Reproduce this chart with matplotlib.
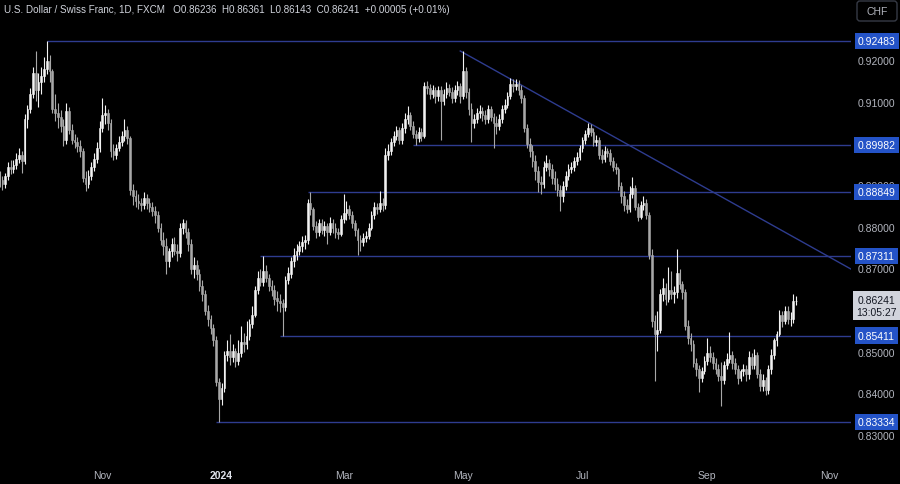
import matplotlib
matplotlib.use("Agg")
import matplotlib.pyplot as plt
import matplotlib.transforms as mtransforms
from matplotlib.patches import FancyBboxPatch
import pandas as pd

plt.rcParams['font.family'] = ['Liberation Sans Narrow', 'Liberation Sans', 'DejaVu Sans']

# USD/CHF daily bars (FXCM), 2023-09-11 .. 2024-10-15, one row per week
closes = [
    0.8915, 0.8905, 0.8925, 0.8945, 0.8940,
    0.8950, 0.8965, 0.8975, 0.8960, 0.9060,
    0.9085, 0.9120, 0.9170, 0.9130, 0.9150,
    0.9165, 0.9180, 0.9200, 0.9175, 0.9085,
    0.9075, 0.9065, 0.9045, 0.9010, 0.9080,
    0.9035, 0.9010, 0.9005, 0.8995, 0.8985,
    0.8920, 0.8905, 0.8925, 0.8945, 0.8965,
    0.8990, 0.9040, 0.9070, 0.9075, 0.9050,
    0.8985, 0.8975, 0.8990, 0.9005, 0.9020,
    0.9035, 0.9015, 0.8890, 0.8875, 0.8865,
    0.8860, 0.8855, 0.8870, 0.8860, 0.8850,
    0.8840, 0.8830, 0.8800, 0.8770, 0.8755,
    0.8720, 0.8745, 0.8760, 0.8745, 0.8740,
    0.8800, 0.8810, 0.8790, 0.8760, 0.8700,
    0.8710, 0.8690, 0.8660, 0.8640, 0.8600,
    0.8580, 0.8560, 0.8530, 0.8430, 0.8390,
    0.8415, 0.8495, 0.8505, 0.8490, 0.8505,
    0.8480, 0.8500, 0.8525, 0.8520, 0.8540,
    0.8570, 0.8590, 0.8650, 0.8680, 0.8670,
    0.8695, 0.8680, 0.8660, 0.8650, 0.8630,
    0.8625, 0.8620, 0.8610, 0.8675, 0.8690,
    0.8720, 0.8735, 0.8745, 0.8755, 0.8765,
    0.8770, 0.8860, 0.8845, 0.8805, 0.8790,
    0.8810, 0.8795, 0.8805, 0.8790, 0.8810,
    0.8800, 0.8790, 0.8785, 0.8820, 0.8835,
    0.8845, 0.8830, 0.8810, 0.8795, 0.8770,
    0.8765, 0.8775, 0.8780, 0.8800, 0.8830,
    0.8850, 0.8845, 0.8860, 0.8855, 0.8975,
    0.8985, 0.9005, 0.9020, 0.9035, 0.9010,
    0.9040, 0.9060, 0.9070, 0.9045, 0.9025,
    0.9015, 0.9030, 0.9020, 0.9140, 0.9135,
    0.9120, 0.9130, 0.9115, 0.9130, 0.9105,
    0.9120, 0.9135, 0.9125, 0.9110, 0.9130,
    0.9140, 0.9115, 0.9175, 0.9125, 0.9085,
    0.9050, 0.9060, 0.9075, 0.9080, 0.9070,
    0.9060, 0.9085, 0.9065, 0.9050, 0.9045,
    0.9060, 0.9085, 0.9095, 0.9115, 0.9145,
    0.9140, 0.9145, 0.9130, 0.9110, 0.9040,
    0.9000, 0.8985, 0.8960, 0.8935, 0.8910,
    0.8905, 0.8945, 0.8955, 0.8940, 0.8920,
    0.8905, 0.8890, 0.8875, 0.8900, 0.8925,
    0.8940, 0.8945, 0.8960, 0.8970, 0.8990,
    0.9010, 0.9025, 0.9040, 0.9030, 0.9005,
    0.9010, 0.8975, 0.8965, 0.8985, 0.8980,
    0.8960, 0.8945, 0.8940, 0.8900, 0.8875,
    0.8855, 0.8845, 0.8880, 0.8895, 0.8850,
    0.8825, 0.8855, 0.8860, 0.8830, 0.8735,
    0.8575, 0.8545, 0.8555, 0.8640, 0.8655,
    0.8630, 0.8650, 0.8640, 0.8645, 0.8690,
    0.8665, 0.8645, 0.8565, 0.8535, 0.8520,
    0.8475, 0.8460, 0.8440, 0.8455, 0.8480,
    0.8500, 0.8490, 0.8475, 0.8460, 0.8445,
    0.8435, 0.8470, 0.8485, 0.8495, 0.8475,
    0.8460, 0.8440, 0.8455, 0.8460, 0.8450,
    0.8490, 0.8470, 0.8495, 0.8450, 0.8420,
    0.8435, 0.8410, 0.8460, 0.8495, 0.8530,
    0.8545, 0.8590, 0.8575, 0.8600, 0.8580,
    0.8580, 0.86236, 0.86241,
]

highs = [
    0.8935, 0.8925, 0.8932, 0.8958, 0.8962,
    0.8962, 0.8978, 0.8990, 0.8985, 0.9072,
    0.9095, 0.9135, 0.9185, 0.9224, 0.9172,
    0.9185, 0.9210, 0.92483, 0.9215, 0.9180,
    0.9120, 0.9100, 0.9082, 0.9060, 0.9100,
    0.9090, 0.9048, 0.9025, 0.9018, 0.9010,
    0.8992, 0.8935, 0.8938, 0.8958, 0.8978,
    0.9005, 0.9055, 0.9112, 0.9095, 0.9085,
    0.9060, 0.9000, 0.9002, 0.9020, 0.9032,
    0.9060, 0.9045, 0.9020, 0.8905, 0.8890,
    0.8880, 0.8872, 0.8885, 0.8882, 0.8870,
    0.8862, 0.8852, 0.8840, 0.8812, 0.8790,
    0.8775, 0.8752, 0.8775, 0.8778, 0.8760,
    0.8812, 0.8820, 0.8818, 0.8800, 0.8772,
    0.8730, 0.8722, 0.8700, 0.8675, 0.8650,
    0.8615, 0.8590, 0.8570, 0.8540, 0.8440,
    0.8428, 0.8505, 0.8530, 0.8545, 0.8520,
    0.8512, 0.8530, 0.8565, 0.8548, 0.8575,
    0.8580, 0.8612, 0.8660, 0.8695, 0.8702,
    0.8731, 0.8710, 0.8690, 0.8675, 0.8662,
    0.8648, 0.8640, 0.8630, 0.8685, 0.8705,
    0.8730, 0.8750, 0.8760, 0.8768, 0.8780,
    0.8782, 0.8868, 0.88849, 0.8850, 0.8815,
    0.8822, 0.8820, 0.8815, 0.8812, 0.8825,
    0.8820, 0.8812, 0.8800, 0.8830, 0.8880,
    0.8865, 0.8855, 0.8840, 0.8818, 0.8800,
    0.8782, 0.8788, 0.8792, 0.8810, 0.8840,
    0.8862, 0.8858, 0.8888, 0.8872, 0.8990,
    0.9000, 0.9015, 0.9032, 0.9045, 0.9042,
    0.9050, 0.9075, 0.9093, 0.9078, 0.9055,
    0.9035, 0.9042, 0.9038, 0.9150, 0.9152,
    0.9145, 0.9142, 0.9138, 0.9140, 0.9140,
    0.9132, 0.9150, 0.9145, 0.9138, 0.9142,
    0.9152, 0.9148, 0.9224, 0.9185, 0.9135,
    0.9100, 0.9072, 0.9088, 0.9095, 0.9090,
    0.9082, 0.9095, 0.9092, 0.9075, 0.9068,
    0.9072, 0.9095, 0.9108, 0.9125, 0.9160,
    0.9158, 0.9158, 0.9155, 0.9142, 0.9118,
    0.9048, 0.9015, 0.8998, 0.8975, 0.8948,
    0.8925, 0.8960, 0.8975, 0.8965, 0.8952,
    0.8935, 0.8918, 0.8902, 0.8912, 0.8935,
    0.8952, 0.8958, 0.8970, 0.8982, 0.8998,
    0.9018, 0.9035, 0.9050, 0.9048, 0.9038,
    0.9022, 0.9018, 0.8988, 0.8995, 0.8992,
    0.8988, 0.8970, 0.8955, 0.8945, 0.8910,
    0.8888, 0.8868, 0.8900, 0.8922, 0.8902,
    0.8858, 0.8865, 0.8875, 0.8868, 0.8838,
    0.8748, 0.8590, 0.8600, 0.8652, 0.8680,
    0.8668, 0.8705, 0.8695, 0.8660, 0.8749,
    0.8702, 0.8672, 0.8652, 0.8578, 0.8548,
    0.8530, 0.8488, 0.8470, 0.8465, 0.8492,
    0.8535, 0.8515, 0.8502, 0.8488, 0.8472,
    0.8478, 0.8480, 0.8500, 0.8550, 0.8505,
    0.8488, 0.8470, 0.8462, 0.8472, 0.8470,
    0.8505, 0.8498, 0.8508, 0.8502, 0.8460,
    0.8448, 0.8442, 0.8470, 0.8508, 0.8535,
    0.8552, 0.8602, 0.8600, 0.8612, 0.8612,
    0.8598, 0.8640, 0.86361,
]

lows = [
    0.8898, 0.8890, 0.8896, 0.8915, 0.8928,
    0.8930, 0.8942, 0.8955, 0.8930, 0.8952,
    0.9040, 0.9075, 0.9112, 0.9105, 0.9090,
    0.9120, 0.9150, 0.9168, 0.9150, 0.9075,
    0.9055, 0.9040, 0.9030, 0.8995, 0.9000,
    0.9025, 0.9000, 0.8990, 0.8982, 0.8970,
    0.8910, 0.8888, 0.8895, 0.8915, 0.8935,
    0.8955, 0.8982, 0.9030, 0.9048, 0.9035,
    0.8970, 0.8962, 0.8965, 0.8985, 0.8995,
    0.9008, 0.9000, 0.8878, 0.8855, 0.8850,
    0.8845, 0.8840, 0.8845, 0.8845, 0.8838,
    0.8828, 0.8812, 0.8790, 0.8758, 0.8735,
    0.8690, 0.8705, 0.8730, 0.8735, 0.8720,
    0.8730, 0.8785, 0.8775, 0.8745, 0.8690,
    0.8680, 0.8675, 0.8648, 0.8625, 0.8590,
    0.8565, 0.8545, 0.8515, 0.8420, 0.83334,
    0.8375, 0.8405, 0.8480, 0.8470, 0.8478,
    0.8465, 0.8470, 0.8490, 0.8502, 0.8510,
    0.8530, 0.8560, 0.8585, 0.8640, 0.8660,
    0.8660, 0.8670, 0.8648, 0.8635, 0.8615,
    0.8600, 0.8598, 0.85411, 0.8600, 0.8665,
    0.8680, 0.8705, 0.8722, 0.8735, 0.8742,
    0.8748, 0.8760, 0.8830, 0.8795, 0.8775,
    0.8780, 0.8785, 0.8780, 0.8760, 0.8782,
    0.8788, 0.8775, 0.8772, 0.8780, 0.8810,
    0.8818, 0.8820, 0.8798, 0.8780, 0.8735,
    0.8745, 0.8755, 0.8765, 0.8772, 0.8795,
    0.8822, 0.8832, 0.8838, 0.8840, 0.8845,
    0.8962, 0.8975, 0.8995, 0.9010, 0.9000,
    0.9000, 0.9028, 0.9048, 0.9035, 0.9015,
    0.89982, 0.9005, 0.9008, 0.9015, 0.9120,
    0.9108, 0.9112, 0.9100, 0.9105, 0.9010,
    0.9095, 0.9110, 0.9115, 0.9098, 0.9102,
    0.9118, 0.9100, 0.9108, 0.9112, 0.9070,
    0.9005, 0.9040, 0.9050, 0.9062, 0.9055,
    0.9048, 0.9052, 0.9055, 0.8990, 0.9025,
    0.9035, 0.9052, 0.9075, 0.9088, 0.9108,
    0.9125, 0.9130, 0.9118, 0.9098, 0.9030,
    0.8990, 0.8970, 0.8945, 0.8915, 0.8885,
    0.8880, 0.8895, 0.8935, 0.8925, 0.8905,
    0.8890, 0.8875, 0.8840, 0.8862, 0.8890,
    0.8915, 0.8930, 0.8935, 0.8950, 0.8962,
    0.8982, 0.9000, 0.9018, 0.9020, 0.8995,
    0.8995, 0.8965, 0.8955, 0.8958, 0.8970,
    0.8950, 0.8935, 0.8928, 0.8890, 0.8860,
    0.8840, 0.8835, 0.8838, 0.8870, 0.8842,
    0.8815, 0.8820, 0.8842, 0.8822, 0.8725,
    0.8562, 0.8432, 0.8505, 0.8548, 0.8625,
    0.8615, 0.8622, 0.8628, 0.8618, 0.8632,
    0.8652, 0.8630, 0.8555, 0.8520, 0.8505,
    0.8465, 0.8445, 0.8405, 0.8430, 0.8448,
    0.8470, 0.8478, 0.8462, 0.8448, 0.8432,
    0.8372, 0.8425, 0.8460, 0.8475, 0.8462,
    0.8448, 0.8425, 0.8432, 0.8445, 0.8432,
    0.8438, 0.8462, 0.8460, 0.8440, 0.8408,
    0.8408, 0.8398, 0.8402, 0.8448, 0.8485,
    0.8515, 0.8540, 0.8562, 0.8568, 0.8570,
    0.8565, 0.8572, 0.86143,
]

first_open = 0.8925
first_day = "2023-09-11"

# drawn levels and where each one starts
levels = [0.92483, 0.89982, 0.88849, 0.87311, 0.85411, 0.83334]
level_from = ["2023-10-04", "2024-04-05", "2024-02-13", "2024-01-19", "2024-01-30", "2023-12-28"]
trend_a = ("2024-04-30", 0.9224)
trend_b = ("2024-07-03", 0.9053)

# 0.86 and 0.90 sit behind the price / level tags, so they are not shown
price_ticks = [0.83, 0.84, 0.85, 0.87, 0.88, 0.89, 0.91, 0.92]
month_starts = ["2023-11-01", "2024-01-01", "2024-03-01", "2024-05-01", "2024-07-01", "2024-09-01", "2024-11-01"]
month_labels = ["Nov", "2024", "Mar", "May", "Jul", "Sep", "Nov"]

title = "U.S. Dollar / Swiss Franc, 1D, FXCM   O0.86236  H0.86361  L0.86143  C0.86241  +0.00005 (+0.01%)"
last_price = 0.86241
countdown = "13:05:27"

# colours
bg = "#000000"
up_col = "#f2f2f2"
down_col = "#a8a8a8"
line_col = "#2e3c8f"
label_blue = "#2453c7"
axis_txt = "#b2b5be"

calendar = pd.bdate_range(first_day, "2024-12-31")


def bar_index(day):
    return int(calendar.searchsorted(pd.Timestamp(day)))


n = len(closes)
opens = [first_open] + closes[:-1]
xs = list(range(n))
cols = [up_col if c >= o else down_col for o, c in zip(opens, closes)]

fig = plt.figure(figsize=(9, 4.85), dpi=100, facecolor=bg)
ax = fig.add_axes([0, 27 / 485, 851 / 900, 458 / 485])
ax.set_facecolor(bg)
ax.set_xlim(0.14, 306.8)
ax.set_ylim(0.82496, 0.93488)

# candles
ax.vlines(xs, lows, highs, colors=cols, linewidth=0.8, zorder=3)
ax.bar(xs, [abs(c - o) for o, c in zip(opens, closes)],
       bottom=[min(o, c) for o, c in zip(opens, closes)],
       width=0.62, color=cols, edgecolor=cols, linewidth=0.4, zorder=4)

# horizontal levels
right = ax.get_xlim()[1]
for lvl, day in zip(levels, level_from):
    ax.hlines(lvl, bar_index(day), right, color=line_col, linewidth=1.0, zorder=2)

# falling trend line from the April high
xa, xb = bar_index(trend_a[0]), bar_index(trend_b[0])
slope = (trend_b[1] - trend_a[1]) / (xb - xa)
ax.plot([xa, right], [trend_a[1], trend_a[1] + slope * (right - xa)],
        color=line_col, linewidth=1.0, zorder=2)

for s in ax.spines.values():
    s.set_visible(False)
ax.tick_params(axis="y", left=False, labelleft=False)

# time axis
ax.set_xticks([bar_index(m) for m in month_starts])
ax.set_xticklabels(month_labels)
ax.tick_params(axis="x", length=0, pad=9.5, labelcolor=axis_txt, labelsize=7.5)
yr = ax.get_xticklabels()[1]
yr.set_fontweight("bold")
yr.set_color("#e0e3eb")

# price scale on the right
blend = mtransforms.blended_transform_factory(ax.transAxes, ax.transData)
xlab = 876.5 / 851
for t in price_ticks:
    ax.text(xlab, t, f"{t:.5f}", transform=blend, ha="center", va="center",
            color=axis_txt, fontsize=7.5, clip_on=False, zorder=5)

for lvl in levels:
    ax.text(xlab, lvl, f"{lvl:.5f}", transform=blend, ha="center", va="center",
            color="white", fontsize=7.5, clip_on=False, zorder=6,
            bbox=dict(boxstyle="square,pad=0.3", fc=label_blue, ec="none"))

ax.annotate(f"{last_price:.5f}\n{countdown}", xy=(xlab, last_price), xycoords=blend,
            xytext=(0, 6), textcoords="offset pixels", ha="center", va="top",
            color="#131722", fontsize=7.5, linespacing=1.2, annotation_clip=False,
            zorder=6, bbox=dict(boxstyle="square,pad=0.35", fc="#d1d4dc", ec="none"))

# header
fig.text(4 / 900, 1 - 10 / 485, title, color="#d1d4dc", fontsize=7.1, ha="left", va="center")

px = mtransforms.Affine2D().scale(1 / 900, 1 / 485) + fig.transFigure
fig.patches.append(FancyBboxPatch((857, 463), 40, 20, boxstyle="round,pad=0,rounding_size=3",
                                  transform=px, fc=bg, ec="#363a45", lw=1))
fig.text(877 / 900, 1 - 12 / 485, "CHF", color=axis_txt, fontsize=7.5, ha="center", va="center")

fig.savefig("out.png", dpi=100, facecolor=bg)
